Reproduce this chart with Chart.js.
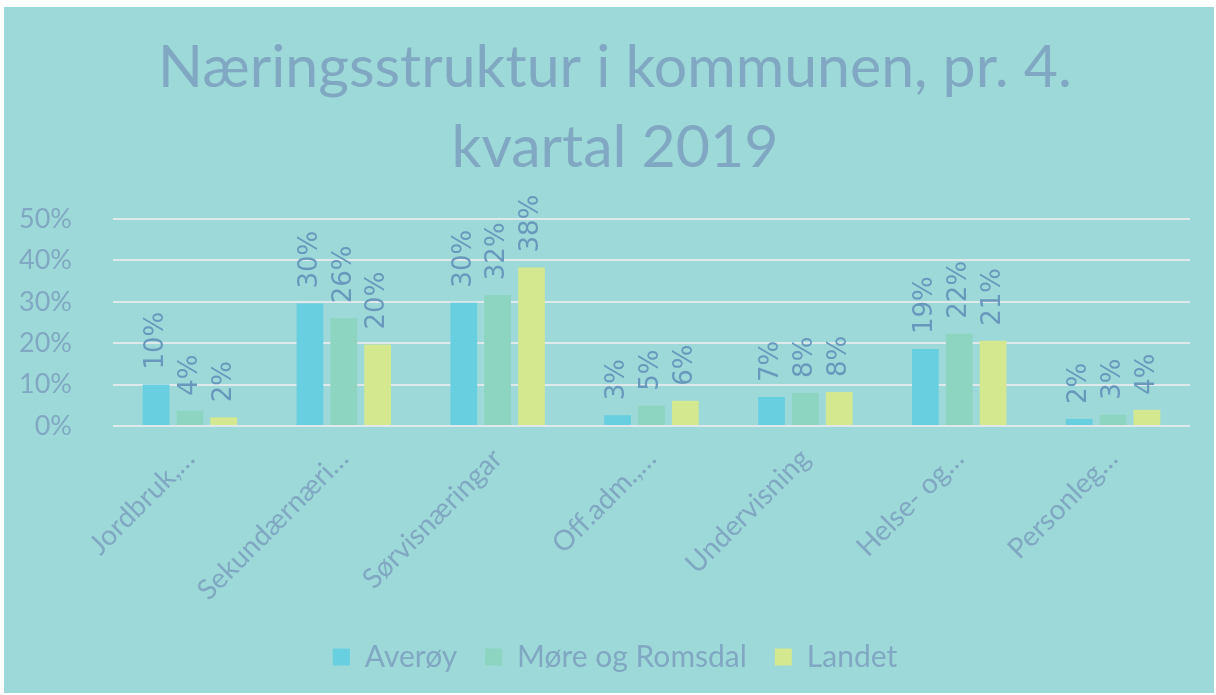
<!DOCTYPE html>
<html>
<head>
<meta charset="utf-8">
<script src="https://cdn.jsdelivr.net/npm/chart.js@4"></script>
<style>
    html, body { margin: 0; padding: 0; background: #ffffff; }
    #wrap { position: absolute; left: 4px; top: 7px; width: 1210px; height: 686px; background: #9dd9d8; }
</style>
</head>
<body>
<div id="wrap"><canvas id="chart"></canvas></div>
<script>
    const categories = ['Jordbruk,…', 'Sekundærnæri…', 'Sørvisnæringar', 'Off.adm.,…', 'Undervisning', 'Helse- og…', 'Personleg…'];
    const seriesNames = ['Averøy', 'Møre og Romsdal', 'Landet'];
    const averoy = [10.0, 29.6, 29.8, 2.6, 7.0, 18.6, 1.7];
    const moreOgRomsdal = [3.7, 26.0, 31.6, 4.9, 8.0, 22.3, 2.7];
    const landet = [2.1, 19.7, 38.3, 6.1, 8.2, 20.6, 3.9];
    const yTicks = [0, 10, 20, 30, 40, 50];

    const colors = {
        averoy: '#68cfe0',
        more: '#8dd5c0',
        landet: '#d4e88f',
        text: '#80a8c2',
        valueText: '#6899bc',
        grid: '#dfe9ec'
    };
    const FONT = 'Lato';

    // rotated value labels above each bar
    const valueLabels = {
        id: 'valueLabels',
        afterDatasetsDraw(chart) {
            const ctx = chart.ctx;
            chart.data.datasets.forEach((ds, i) => {
                const meta = chart.getDatasetMeta(i);
                meta.data.forEach((bar, j) => {
                    ctx.save();
                    ctx.translate(bar.x, bar.y - 15);
                    ctx.rotate(-Math.PI / 2);
                    ctx.font = '26px "DejaVu Sans"';
                    ctx.fillStyle = colors.valueText;
                    ctx.textAlign = 'left';
                    ctx.textBaseline = 'middle';
                    ctx.fillText(Math.round(ds.data[j]) + '%', 0, 0);
                    ctx.restore();
                });
            });
        }
    };

    // let the y tick labels reach into the left padding (title/legend stay centred)
    const widenYLabels = {
        id: 'widenYLabels',
        afterLayout(chart) {
            chart.scales.y.left = 0;
        }
    };

    const barOpts = { categoryPercentage: 0.66, barPercentage: 0.79 };

    new Chart(document.getElementById('chart'), {
        type: 'bar',
        data: {
            labels: categories,
            datasets: [
                Object.assign({ label: seriesNames[0], data: averoy, backgroundColor: colors.averoy }, barOpts),
                Object.assign({ label: seriesNames[1], data: moreOgRomsdal, backgroundColor: colors.more }, barOpts),
                Object.assign({ label: seriesNames[2], data: landet, backgroundColor: colors.landet }, barOpts)
            ]
        },
        options: {
            responsive: true,
            maintainAspectRatio: false,
            animation: false,
            layout: { padding: { left: 36, right: 24, top: 0, bottom: 11 } },
            plugins: {
                title: {
                    display: true,
                    text: ['Næringsstruktur i kommunen, pr. 4.', 'kvartal 2019'],
                    color: colors.text,
                    font: { family: FONT, size: 59, weight: 'normal', lineHeight: 1.356 },
                    padding: { top: 21, bottom: 31 }
                },
                legend: {
                    position: 'bottom',
                    labels: {
                        color: colors.text,
                        font: { family: FONT, size: 30 },
                        boxWidth: 17,
                        boxHeight: 17,
                        padding: 28
                    }
                },
                tooltip: { enabled: false }
            },
            scales: {
                x: {
                    grid: { display: false },
                    border: { display: false },
                    ticks: {
                        color: colors.text,
                        font: { family: FONT, size: 28 },
                        minRotation: 45,
                        maxRotation: 45,
                        autoSkip: false,
                        padding: 8
                    },
                    afterFit: function(scale) { scale.height = 188; }
                },
                y: {
                    min: 0,
                    max: 50,
                    afterBuildTicks: function(scale) {
                        scale.ticks = yTicks.map(v => ({ value: v }));
                    },
                    grid: { color: colors.grid, lineWidth: 2, drawTicks: false },
                    border: { display: false },
                    ticks: {
                        color: colors.text,
                        font: { family: FONT, size: 27 },
                        padding: 41,
                        callback: function(value) {
                            return value + '%';
                        }
                    },
                    afterFit: function(scale) { scale.width = 73; }
                }
            }
        },
        plugins: [valueLabels, widenYLabels]
    });
</script>
</body>
</html>
